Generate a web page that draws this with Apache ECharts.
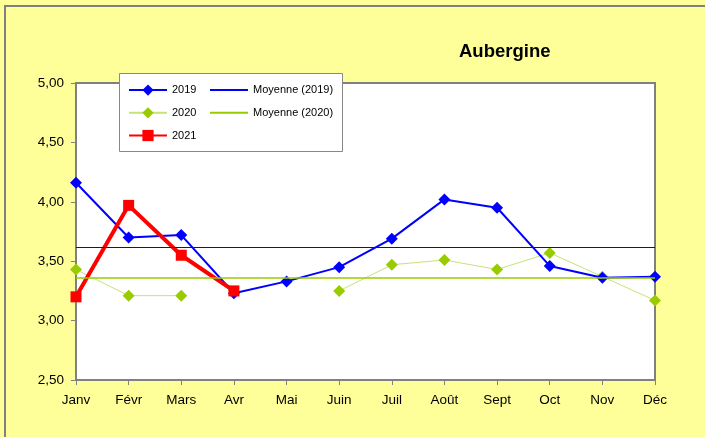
<!DOCTYPE html>
<html>
<head>
<meta charset="utf-8">
<script src="https://cdn.jsdelivr.net/npm/echarts@6/dist/echarts.min.js"></script>
<style>html,body{margin:0;padding:0;background:#FFFF99;}#c{width:705px;height:437px;}</style>
</head>
<body>
<div id="c"></div>
<script>
var months = ['Janv','Févr','Mars','Avr','Mai','Juin','Juil','Août','Sept','Oct','Nov','Déc'];
var s2019 = [4.16, 3.70, 3.72, 3.23, 3.33, 3.45, 3.69, 4.02, 3.95, 3.46, 3.36, 3.37];
var s2020 = [3.43, 3.21, 3.21, null, null, 3.25, 3.47, 3.51, 3.43, 3.57, 3.37, 3.17];
var s2021 = [3.20, 3.97, 3.55, 3.25, null, null, null, null, null, null, null, null];
var mean2019 = 3.62;
var mean2020 = 3.36;
var yTicks = [2.5, 5.0, 0.5]; // min, max, interval
var chartTitle = 'Aubergine';

var FONT = '"Liberation Sans", Arial, sans-serif';
var chart = echarts.init(document.getElementById('c'));
chart.setOption({
  backgroundColor: '#FFFF99',
  animation: false,
  title: {
    text: chartTitle, left: 454, top: 37,
    textStyle: {fontFamily: FONT, fontSize: 18.5, fontWeight: 'bold', color: '#000'}
  },
  graphic: [
    {type: 'rect', z: 0, silent: true, shape: {x: 5, y: 6, width: 800, height: 500},
     style: {fill: 'none', stroke: '#808080', lineWidth: 2}},
    {type: 'rect', z: 3, silent: true, shape: {x: 119.5, y: 73.5, width: 223, height: 78},
     style: {fill: '#fff', stroke: '#888', lineWidth: 1}}
  ],
  legend: [
    {data: ['2019','2020','2021'], orient: 'vertical', left: 128, top: 84.5, padding: 0,
     itemWidth: 38, itemHeight: 14, itemGap: 11.5, z: 5,
     textStyle: {fontFamily: FONT, fontSize: 11, color: '#000'}},
    {data: [{name: 'Moyenne (2019)', itemStyle: {opacity: 0}},
            {name: 'Moyenne (2020)', itemStyle: {opacity: 0}}],
     orient: 'vertical', left: 209, top: 84.5, padding: 0,
     itemWidth: 38, itemHeight: 14, itemGap: 11.5, z: 5,
     textStyle: {fontFamily: FONT, fontSize: 11, color: '#000'}}
  ],
  grid: {left: 76, top: 83, right: 50, bottom: 57, show: true,
         backgroundColor: '#fff', borderColor: '#808080', borderWidth: 2},
  xAxis: {
    type: 'category', data: months, boundaryGap: false,
    axisLine: {lineStyle: {color: '#808080', width: 2}},
    axisTick: {show: true, length: 5, alignWithLabel: true, lineStyle: {color: '#808080'}},
    axisLabel: {fontFamily: FONT, fontSize: 13.5, color: '#000', margin: 13},
    splitLine: {show: false}
  },
  yAxis: {
    type: 'value', min: yTicks[0], max: yTicks[1], interval: yTicks[2],
    axisLine: {show: true, lineStyle: {color: '#808080', width: 2}},
    axisTick: {show: true, length: 5, lineStyle: {color: '#808080'}},
    axisLabel: {fontFamily: FONT, fontSize: 13.5, color: '#000', margin: 12,
      formatter: function(v){ return v.toFixed(2).replace('.', ','); }},
    splitLine: {show: false}
  },
  series: [
    {name: '2019', type: 'line', data: s2019, symbol: 'diamond', symbolSize: 12,
     color: '#0000FF', lineStyle: {width: 2, color: '#0000FF'}, itemStyle: {color: '#0000FF'}, z: 3},
    {name: '2020', type: 'line', data: s2020, symbol: 'diamond', symbolSize: 12, connectNulls: false,
     color: '#99CC00', lineStyle: {width: 1, color: '#C4E37A'}, itemStyle: {color: '#99CC00'}, z: 2},
    {name: '2021', type: 'line', data: s2021, symbol: 'rect', symbolSize: 11,
     color: '#FF0000', lineStyle: {width: 4, color: '#FF0000'}, itemStyle: {color: '#FF0000'}, z: 4},
    {name: 'Moyenne (2019)', type: 'line', data: [], symbol: 'none', color: '#0000FF',
     lineStyle: {width: 1, color: '#0000FF'},
     markLine: {silent: true, symbol: ['none','none'], label: {show: false},
       lineStyle: {color: '#0000FF', width: 1.2, type: 'solid'}, data: [{yAxis: mean2019}]}},
    {name: 'Moyenne (2020)', type: 'line', data: [], symbol: 'none', color: '#99CC00',
     lineStyle: {width: 1, color: '#99CC00'},
     markLine: {silent: true, symbol: ['none','none'], label: {show: false},
       lineStyle: {color: '#99CC00', width: 1.5, type: 'solid'}, data: [{yAxis: mean2020}]}}
  ]
});
</script>
</body>
</html>
